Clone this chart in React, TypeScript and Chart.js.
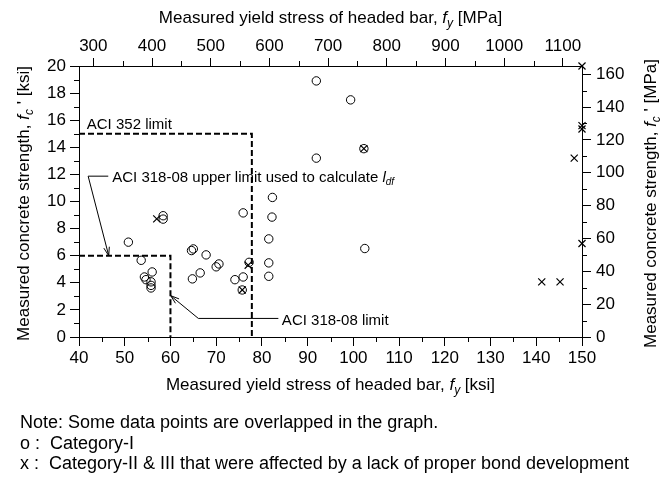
import React, { useEffect, useRef } from 'react';
import { Chart, registerables } from 'chart.js';

Chart.register(...registerables);

const FONT = "'Liberation Sans', Arial, Helvetica, sans-serif";

// Axis ticks
const fyKsiTicks = [40, 50, 60, 70, 80, 90, 100, 110, 120, 130, 140, 150];
const fyKsiMinor = [45, 55, 65, 75, 85, 95, 105, 115, 125, 135, 145];
const fyMpaTicks = [300, 400, 500, 600, 700, 800, 900, 1000, 1100];
const fyMpaMinor = [350, 450, 550, 650, 750, 850, 950, 1050];
const fcKsiTicks = [0, 2, 4, 6, 8, 10, 12, 14, 16, 18, 20];
const fcKsiMinor = [1, 3, 5, 7, 9, 11, 13, 15, 17, 19];
const fcMpaTicks = [0, 20, 40, 60, 80, 100, 120, 140, 160];
const fcMpaMinor = [10, 30, 50, 70, 90, 110, 130, 150];

// Secondary axis ranges (MPa)
const FY_MPA_MIN = 275.6;
const FY_MPA_MAX = 1132.6;
const FC_MPA_MAX = 165;

// Category-I specimens
const catIFy = [50.8, 53.6, 54.3, 54.65, 56.0, 55.75, 55.75, 55.75, 58.4, 58.4, 64.6, 65.0, 64.8, 66.5, 67.8, 70.0, 70.6, 74.1, 75.9, 75.7, 75.9, 77.2, 81.5, 81.5, 81.5, 82.2, 82.3, 91.9, 91.9, 99.4, 102.5, 102.3];
const catIFc = [7.0, 5.66, 4.43, 4.23, 4.8, 4.07, 3.81, 3.62, 8.95, 8.7, 6.38, 6.5, 4.29, 4.73, 6.06, 5.18, 5.39, 4.23, 4.43, 3.47, 9.16, 5.51, 4.48, 5.47, 7.24, 8.85, 10.3, 13.2, 18.9, 17.5, 6.53, 13.9];

// Category-II & III specimens
const catIIFy = [57.0, 75.7, 77.0, 102.3, 141.2, 145.2, 148.3, 150, 150, 150, 150];
const catIIFc = [8.72, 3.47, 5.3, 13.9, 4.07, 4.07, 13.2, 20.0, 15.6, 15.35, 6.9];

// Code limits
const aci352Fy = [40, 77.8, 77.8];
const aci352Fc = [15, 15, 0];
const aci318Fy = [40, 60, 60];
const aci318Fc = [6, 6, 0];

// Leader lines (last point is the arrow tip)
const upperLeaderFy = [46.4, 42.0, 46.5];
const upperLeaderFc = [11.87, 11.87, 6.0];
const limitLeaderFy = [83.6, 66.1, 60.05];
const limitLeaderFc = [1.37, 1.37, 3.05];

const pts = (xs: number[], ys: number[]) => xs.map((x, i) => ({ x, y: ys[i] }));

type Seg = { t: string; i?: boolean; sub?: boolean };

const segFont = (size: number, s: Seg) =>
  `${s.i ? 'italic ' : ''}${s.sub ? Math.round(size * 0.68) : size}px ${FONT}`;

function richWidth(ctx: CanvasRenderingContext2D, segs: Seg[], size: number) {
  let w = 0;
  for (const s of segs) {
    ctx.font = segFont(size, s);
    w += ctx.measureText(s.t).width;
  }
  return w;
}

function drawRich(
  ctx: CanvasRenderingContext2D,
  segs: Seg[],
  x: number,
  y: number,
  size: number,
  align: 'left' | 'center',
) {
  let cx = align === 'center' ? x - richWidth(ctx, segs, size) / 2 : x;
  ctx.textAlign = 'left';
  ctx.textBaseline = 'alphabetic';
  for (const s of segs) {
    ctx.font = segFont(size, s);
    ctx.fillText(s.t, cx, s.sub ? y + size * 0.22 : y);
    cx += ctx.measureText(s.t).width;
  }
}

const bottomTitle: Seg[] = [
  { t: 'Measured yield stress of headed bar, ' },
  { t: 'f', i: true },
  { t: 'y', i: true, sub: true },
  { t: ' [ksi]' },
];
const topTitle: Seg[] = [
  { t: 'Measured yield stress of headed bar, ' },
  { t: 'f', i: true },
  { t: 'y', i: true, sub: true },
  { t: ' [MPa]' },
];
const leftTitle: Seg[] = [
  { t: 'Measured concrete strength, ' },
  { t: 'f', i: true },
  { t: 'c', i: true, sub: true },
  { t: " ' [ksi]" },
];
const rightTitle: Seg[] = [
  { t: 'Measured concrete strength, ' },
  { t: 'f', i: true },
  { t: 'c', i: true, sub: true },
  { t: " ' [MPa]" },
];
const upperLimitText: Seg[] = [
  { t: 'ACI 318-08 upper limit used to calculate ' },
  { t: 'l', i: true },
  { t: 'df', i: true, sub: true },
];

function arrowHead(ctx: CanvasRenderingContext2D, fx: number, fy: number, tx: number, ty: number) {
  const ang = Math.atan2(ty - fy, tx - fx);
  const len = 9;
  const spread = 0.32;
  ctx.beginPath();
  ctx.moveTo(tx - len * Math.cos(ang - spread), ty - len * Math.sin(ang - spread));
  ctx.lineTo(tx, ty);
  ctx.lineTo(tx - len * Math.cos(ang + spread), ty - len * Math.sin(ang + spread));
  ctx.stroke();
}

const extrasPlugin = {
  id: 'figureExtras',
  afterDraw(chart: any) {
    const { ctx, scales, chartArea } = chart;
    const x = scales.x;
    const y = scales.y;
    const x2 = scales.x2;
    const y2 = scales.y2;
    ctx.save();
    ctx.strokeStyle = '#000';
    ctx.fillStyle = '#000';
    ctx.lineWidth = 1;

    // minor ticks
    const minor = 5;
    ctx.beginPath();
    for (const v of fyKsiMinor) {
      const px = Math.round(x.getPixelForValue(v)) + 0.5;
      ctx.moveTo(px, chartArea.bottom);
      ctx.lineTo(px, chartArea.bottom + minor);
    }
    for (const v of fyMpaMinor) {
      const px = Math.round(x2.getPixelForValue(v)) + 0.5;
      ctx.moveTo(px, chartArea.top);
      ctx.lineTo(px, chartArea.top - minor);
    }
    for (const v of fcKsiMinor) {
      const py = Math.round(y.getPixelForValue(v)) + 0.5;
      ctx.moveTo(chartArea.left, py);
      ctx.lineTo(chartArea.left - minor, py);
    }
    for (const v of fcMpaMinor) {
      const py = Math.round(y2.getPixelForValue(v)) + 0.5;
      ctx.moveTo(chartArea.right, py);
      ctx.lineTo(chartArea.right + minor, py);
    }
    ctx.stroke();

    // arrowheads at the ends of the leader lines
    const n = upperLeaderFy.length - 1;
    arrowHead(
      ctx,
      x.getPixelForValue(upperLeaderFy[n - 1]),
      y.getPixelForValue(upperLeaderFc[n - 1]),
      x.getPixelForValue(upperLeaderFy[n]),
      y.getPixelForValue(upperLeaderFc[n]),
    );
    const m = limitLeaderFy.length - 1;
    arrowHead(
      ctx,
      x.getPixelForValue(limitLeaderFy[m - 1]),
      y.getPixelForValue(limitLeaderFc[m - 1]),
      x.getPixelForValue(limitLeaderFy[m]),
      y.getPixelForValue(limitLeaderFc[m]),
    );

    // annotation labels
    drawRich(ctx, [{ t: 'ACI 352 limit' }], x.getPixelForValue(41.7), y.getPixelForValue(15.75) + 5.5, 15, 'left');
    drawRich(ctx, upperLimitText, x.getPixelForValue(upperLeaderFy[0]) + 4, y.getPixelForValue(upperLeaderFc[0]) + 5.5, 15, 'left');
    drawRich(ctx, [{ t: 'ACI 318-08 limit' }], x.getPixelForValue(limitLeaderFy[0]) + 3.5, y.getPixelForValue(limitLeaderFc[0]) + 6.5, 15, 'left');

    // axis titles
    const midX = (chartArea.left + chartArea.right) / 2;
    const midY = (chartArea.top + chartArea.bottom) / 2 + 2;
    drawRich(ctx, topTitle, midX, 23, 17, 'center');
    drawRich(ctx, bottomTitle, midX, 390, 17, 'center');

    ctx.save();
    ctx.translate(29, midY);
    ctx.rotate(-Math.PI / 2);
    drawRich(ctx, leftTitle, 0, 0, 17, 'center');
    ctx.restore();

    ctx.save();
    ctx.translate(656, midY);
    ctx.rotate(-Math.PI / 2);
    drawRich(ctx, rightTitle, 0, 0, 17, 'center');
    ctx.restore();

    ctx.restore();
  },
};

const fixedTicks = (values: number[]) => (scale: any) => {
  scale.ticks = values.map((value) => ({ value }));
};

const plainLabel = (v: any) => String(v);

const tickFont = { family: FONT, size: 17 };

const axisGrid = {
  drawOnChartArea: false,
  drawTicks: true,
  tickLength: 9,
  color: '#000',
  lineWidth: 1,
};
const axisBorder = { display: true, color: '#000', width: 1 };

export default function App() {
  const canvasRef = useRef<HTMLCanvasElement | null>(null);

  useEffect(() => {
    if (!canvasRef.current) return;
    const lineSet = (xs: number[], ys: number[], dash: number[], width: number) => ({
      type: 'line' as const,
      data: pts(xs, ys),
      showLine: true,
      borderColor: '#000',
      borderWidth: width,
      borderDash: dash,
      pointRadius: 0,
      fill: false,
      tension: 0,
      clip: false as const,
    });

    const chart = new Chart(canvasRef.current, {
      type: 'scatter',
      data: {
        datasets: [
          {
            label: 'Category-I',
            data: pts(catIFy, catIFc),
            pointStyle: 'circle',
            pointRadius: 4.2,
            borderColor: '#000',
            backgroundColor: 'rgba(0,0,0,0)',
            borderWidth: 1,
            clip: false,
          },
          {
            label: 'Category-II & III',
            data: pts(catIIFy, catIIFc),
            pointStyle: 'crossRot',
            pointRadius: 5,
            borderColor: '#000',
            backgroundColor: '#000',
            borderWidth: 1.2,
            clip: false,
          },
          lineSet(aci352Fy, aci352Fc, [6, 3], 2),
          lineSet(aci318Fy, aci318Fc, [6, 3], 2),
          lineSet(upperLeaderFy, upperLeaderFc, [], 1),
          lineSet(limitLeaderFy, limitLeaderFc, [], 1),
        ] as any,
      },
      options: {
        animation: false,
        responsive: false,
        events: [],
        layout: { padding: 0 },
        plugins: { legend: { display: false }, tooltip: { enabled: false } },
        scales: {
          x: {
            type: 'linear',
            position: 'bottom',
            min: 40,
            max: 150,
            afterBuildTicks: fixedTicks(fyKsiTicks),
            afterFit: (s: any) => {
              s.height = 145;
            },
            grid: axisGrid,
            border: axisBorder,
            ticks: { color: '#000', font: tickFont, padding: 2, maxRotation: 0, autoSkip: false, callback: plainLabel },
          },
          x2: {
            type: 'linear',
            position: 'top',
            min: FY_MPA_MIN,
            max: FY_MPA_MAX,
            afterBuildTicks: fixedTicks(fyMpaTicks),
            afterFit: (s: any) => {
              s.height = 66;
            },
            grid: { ...axisGrid, tickLength: 8 },
            border: axisBorder,
            ticks: { color: '#000', font: tickFont, padding: 1, maxRotation: 0, autoSkip: false, callback: plainLabel },
          },
          y: {
            type: 'linear',
            position: 'left',
            min: 0,
            max: 20,
            afterBuildTicks: fixedTicks(fcKsiTicks),
            afterFit: (s: any) => {
              s.width = 79;
            },
            grid: axisGrid,
            border: axisBorder,
            ticks: { color: '#000', font: tickFont, padding: 4, autoSkip: false, callback: plainLabel },
          },
          y2: {
            type: 'linear',
            position: 'right',
            min: 0,
            max: FC_MPA_MAX,
            afterBuildTicks: fixedTicks(fcMpaTicks),
            afterFit: (s: any) => {
              s.width = 83;
            },
            grid: axisGrid,
            border: axisBorder,
            ticks: { color: '#000', font: tickFont, padding: 5, autoSkip: false, callback: plainLabel },
          },
        },
      } as any,
      plugins: [extrasPlugin],
    });
    return () => chart.destroy();
  }, []);

  const noteStyle: React.CSSProperties = {
    position: 'absolute',
    left: 20,
    fontFamily: FONT,
    fontSize: 18,
    lineHeight: '20.5px',
    color: '#000',
    whiteSpace: 'nowrap',
  };

  return (
    <div style={{ position: 'absolute', left: 0, top: 0, width: 665, height: 482, background: '#fff' }}>
      <canvas ref={canvasRef} width={665} height={482} style={{ display: 'block' }} />
      <div style={{ ...noteStyle, top: 412 }}>
        <div>Note: Some data points are overlapped in the graph.</div>
        <div>o :&nbsp; Category-I</div>
        <div>x :&nbsp; Category-II &amp; III that were affected by a lack of proper bond development</div>
      </div>
    </div>
  );
}
